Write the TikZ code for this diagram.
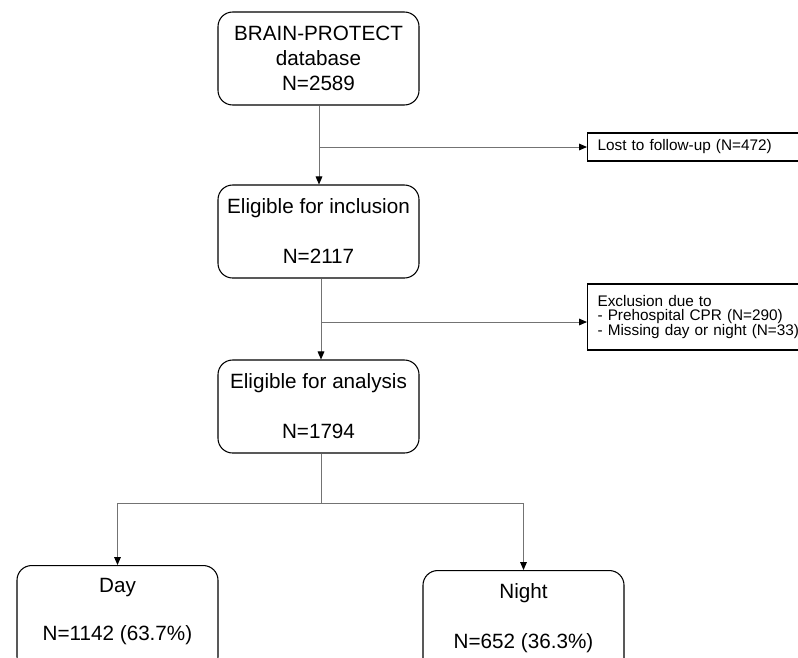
\documentclass[tikz,border=0pt]{standalone}
\usepackage{fontspec}
\setmainfont{Liberation Sans}
\usetikzlibrary{arrows.meta}
\tikzset{
  mainbox/.style={draw=black, line width=0.8pt, rounded corners=11pt, inner sep=0pt,
    minimum width=150.75pt, minimum height=69.75pt, align=center,
    font=\fontsize{15.5}{19}\selectfont},
  sidebox/.style={draw=black, line width=0.8pt, inner xsep=7.5pt, inner ysep=0pt, anchor=west,
    text width=160pt, align=left, font=\fontsize{11.5}{11}\selectfont},
  conn/.style={draw=black!55, line width=0.75pt},
  arr/.style={conn, -{Triangle[length=6pt,width=5pt,color=black]}}
}
\begin{document}
\begin{tikzpicture}[x=0.75pt,y=-0.75pt]
\useasboundingbox (0,0) rectangle (798,657);
\clip (0,0) rectangle (798,657);
\fill[white] (0,0) rectangle (798,657);

\node[mainbox] (db) at (318.5,58.5) {BRAIN-PROTECT\\database\\N=2589};
\node[mainbox] (incl) at (318.5,231.5) {Eligible for inclusion\\[18.5pt]N=2117};
\node[mainbox] (anal) at (318.5,406.5) {Eligible for analysis\\[18.5pt]N=1794};
\node[mainbox, minimum height=79.5pt, anchor=north] (day) at (117.5,565) {\\[-44pt]Day\\[17.5pt]N=1142 (63.7\%)};
\node[mainbox, minimum height=82.5pt, anchor=north] (night) at (523.5,570) {\\[-44pt]Night\\[18.5pt]N=652 (36.3\%)};

\node[sidebox, minimum height=21pt] (lost) at (587,147) {Lost to follow-up (N=472)};
\node[sidebox, minimum height=49.5pt] (excl) at (587,317) {Exclusion due to\\- Prehospital CPR (N=290)\\- Missing day or night (N=33)};

\coordinate (b1) at (319,147);
\coordinate (b2) at (321,322);
\coordinate (j) at (321,503);
\coordinate (jl) at (117.5,503);
\coordinate (jr) at (523.5,503);

\draw[arr] (db.south -| b1) -- (incl.north -| b1);
\draw[arr] (b1) -- (lost.west);
\draw[arr] (incl.south -| b2) -- (anal.north -| b2);
\draw[arr] (b2) -- (excl.west |- b2);
\draw[conn] (anal.south -| j) -- (j);
\draw[conn] (jl) -- (jr);
\draw[arr] (jl) -- (day.north);
\draw[arr] (jr) -- (night.north);
\end{tikzpicture}
\end{document}
